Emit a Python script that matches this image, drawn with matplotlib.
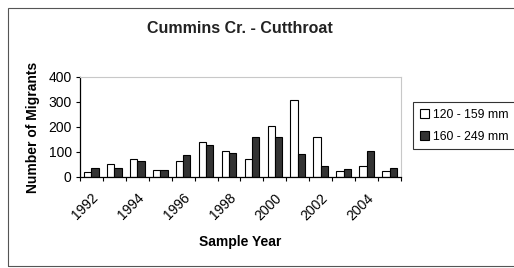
import numpy as np
import matplotlib
matplotlib.use("Agg")
import matplotlib.pyplot as plt
from matplotlib.patches import Rectangle

plt.rcParams['font.family'] = ['Liberation Sans', 'DejaVu Sans']

# data
years = list(range(1992, 2006))
small_fish = [20, 53, 73, 26, 62, 140, 103, 73, 204, 307, 160, 25, 45, 22]   # 120 - 159 mm
large_fish = [34, 34, 65, 28, 87, 126, 95, 160, 159, 91, 42, 33, 103, 34]    # 160 - 249 mm
tick_years = [1992, 1994, 1996, 1998, 2000, 2002, 2004]

fig = plt.figure(figsize=(5.14, 2.68), dpi=100)
ax = fig.add_axes([0.1556, 0.3396, 0.6245, 0.3731])

x = np.arange(len(years))
w = 0.32
ax.bar(x - w/2, small_fish, w, color='white', edgecolor='black', linewidth=0.8, label='120 - 159 mm')
ax.bar(x + w/2, large_fish, w, color='#333333', edgecolor='black', linewidth=0.8, label='160 - 249 mm')

ax.set_xlim(-0.5, len(years) - 0.5)
ax.set_ylim(0, 400)
ax.set_yticks([0, 100, 200, 300, 400])
ax.tick_params(axis='y', direction='out', length=3, labelsize=10, pad=3)

# ticks between categories, labels on every other year
ax.set_xticks(np.arange(len(years) + 1) - 0.5)
ax.set_xticklabels([])
ax.set_xticks([years.index(y) for y in tick_years], minor=True)
ax.set_xticklabels([str(y) for y in tick_years], minor=True, rotation=45,
                   ha='right', rotation_mode='anchor', fontsize=10)
ax.tick_params(axis='x', which='major', direction='out', length=3)
ax.tick_params(axis='x', which='minor', length=0, pad=10)

for s in ['top', 'right']:
    ax.spines[s].set_color('#c8c8c8')
    ax.spines[s].set_linewidth(0.8)
for s in ['left', 'bottom']:
    ax.spines[s].set_linewidth(0.9)

ax.set_ylabel('Number of Migrants', fontsize=10, fontweight='bold', labelpad=6)
ax.set_xlabel('Sample Year', fontsize=10, fontweight='bold', labelpad=9)
fig.text(0.467, 0.892, 'Cummins Cr. - Cutthroat', ha='center', va='center',
         fontsize=11.5, fontweight='bold', color='#222222')

leg = fig.legend(loc='upper left', bbox_to_anchor=(0.8035, 0.619), fontsize=8.8,
                 frameon=True, fancybox=False, edgecolor='black', handlelength=0.8,
                 handleheight=0.8, handletextpad=0.3, borderpad=0.55, labelspacing=0.8,
                 borderaxespad=0)
leg.get_frame().set_linewidth(0.8)

# outer chart border (right edge falls outside the picture)
fig.patches.append(Rectangle((0.016, 0.008), 1.2, 0.962, transform=fig.transFigure,
                             fill=False, edgecolor='#555555', linewidth=0.8))

fig.savefig('out.png', dpi=100)
